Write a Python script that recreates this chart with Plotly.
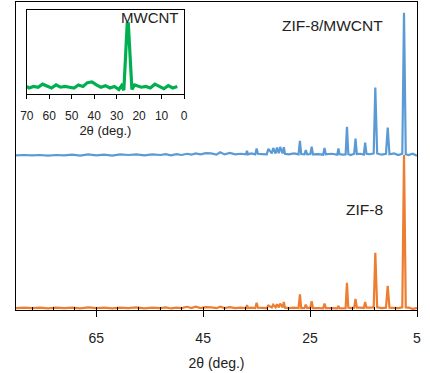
import plotly.graph_objects as go

# ---- data ----
zif8_x = [5.0, 5.8, 6.5, 7.1, 7.43, 7.75, 8.5, 9.3, 10.15, 10.48, 10.8, 11.6, 12.45, 12.8, 13.1,
          13.8, 14.45, 14.7, 14.95, 15.6, 16.25, 16.5, 16.75, 17.4, 17.85, 18.1, 18.35, 19.0,
          19.5, 19.7, 19.9, 21.0, 22.05, 22.3, 22.55, 23.5, 24.45, 24.7, 24.95, 25.55, 25.8,
          26.05, 26.65, 26.9, 27.15, 28.0, 29.0, 29.7, 29.9, 30.15, 30.6, 30.85, 31.2, 31.45,
          31.9, 32.15, 32.8, 33.1, 34.0, 34.75, 35.0, 35.25, 36.0, 36.6, 36.8, 37.0, 38.0, 39.0,
          40.0, 41.0, 41.8, 42.5, 43.5, 44.5, 45.5, 46.4, 47.2, 48.0, 49.0, 50.0, 51.0, 52.0,
          53.0, 54.5, 56.0, 57.5, 59.0, 60.5, 62.0, 63.5, 65.0, 66.5, 68.0, 69.5, 71.0, 72.5,
          74.0, 75.5, 77.0, 78.5, 80.0]
zif8_y = [5, 0, 8, 10, 1000, 10, 5, 8, 8, 150, 8, 5, 10, 365, 10,
          8, 8, 45, 5, 8, 8, 65, 8, 5, 8, 170, 5, 3,
          5, 20, 3, 5, 5, 35, 3, 5, 5, 50, 8, 5, 28,
          5, 5, 95, 5, 8, 5, 8, 45, 10, 35, 10, 30, 10,
          28, 10, 22, 5, 5, 8, 40, 5, 8, 5, 25, 5, 8, 5,
          12, 5, 15, 5, 10, 12, 5, 15, 5, 14, 5, 8, 3, 10,
          5, 8, 3, 10, 5, 8, 3, 8, 5, 10, 3, 8, 5, 8,
          3, 8, 5, 8, 5]

cnt_x = [5.0, 5.8, 6.6, 7.1, 7.43, 7.75, 8.5, 9.3, 10.15, 10.48, 10.8, 11.6, 12.45, 12.8, 13.1,
         13.8, 14.45, 14.7, 14.95, 15.6, 16.25, 16.5, 16.75, 17.4, 17.85, 18.1, 18.35, 19.0,
         19.5, 19.7, 19.9, 21.0, 22.05, 22.3, 22.55, 23.5, 24.45, 24.7, 24.95, 25.55, 25.8,
         26.05, 26.65, 26.9, 27.15, 28.0, 29.0, 29.7, 29.9, 30.15, 30.6, 30.85, 31.2, 31.45,
         31.9, 32.15, 32.8, 33.1, 34.0, 34.75, 35.0, 35.25, 36.0, 36.6, 36.8, 37.0, 38.0, 39.0,
         40.0, 41.0, 41.8, 42.5, 43.5, 44.5, 45.5, 46.4, 47.2, 48.0, 49.0, 50.0, 51.0, 52.0,
         53.0, 54.5, 56.0, 57.5, 59.0, 60.5, 62.0, 63.5, 65.0, 66.5, 68.0, 69.5, 71.0, 72.5,
         74.0, 75.5, 77.0, 78.5, 80.0]
cnt_y = [995, 1008, 1000, 1005, 1924, 1008, 1000, 1010, 1005, 1178, 1008, 1002, 1010, 1438, 1010,
         1005, 1008, 1080, 1003, 1008, 1006, 1106, 1008, 1000, 1006, 1184, 1004, 1002,
         1006, 1042, 1002, 1008, 1004, 1046, 1002, 1006, 1004, 1054, 1006, 1004, 1032,
         1004, 1006, 1092, 1004, 1010, 1004, 1008, 1050, 1010, 1052, 1012, 1048, 1010,
         1046, 1010, 1040, 1004, 1006, 1008, 1042, 1004, 1010, 1004, 1028, 1004, 1008, 1004,
         1014, 1004, 1018, 1002, 1010, 1012, 1004, 1010, 1002, 1008, 1000, 1006, 998, 1006,
         1000, 1004, 998, 1004, 1000, 1004, 996, 1002, 998, 1004, 996, 1002, 998, 1000,
         996, 1000, 998, 1000, 997]

mw_x = [3, 5, 7, 9, 11, 13, 15, 17, 19, 20.5, 22, 23.2, 24.3, 24.8, 25.3, 25.8, 26.8, 27.8,
        29, 31, 33, 35, 37, 39, 41, 43, 45, 47, 49, 51, 53, 55, 57, 59, 61, 63, 65, 67, 69, 70]
mw_y = [0.10, 0.08, 0.11, 0.07, 0.10, 0.13, 0.08, 0.10, 0.09, 0.10, 0.12, 0.06, 0.60, 0.92,
        0.92, 0.60, 0.05, 0.11, 0.06, 0.10, 0.08, 0.11, 0.09, 0.12, 0.16, 0.15, 0.10, 0.12,
        0.08, 0.09, 0.10, 0.09, 0.12, 0.08, 0.10, 0.13, 0.09, 0.10, 0.08, 0.10]

main_ticks = [5, 25, 45, 65]
inset_ticks = [0, 10, 20, 30, 40, 50, 60, 70]

FONT = "Liberation Sans"

fig = go.Figure()
fig.add_trace(go.Scatter(x=zif8_x, y=zif8_y, mode="lines",
                         line=dict(color="#ED7D31", width=2.2), showlegend=False))
fig.add_trace(go.Scatter(x=cnt_x, y=cnt_y, mode="lines",
                         line=dict(color="#5B9BD5", width=2.2), showlegend=False))
fig.add_trace(go.Scatter(x=mw_x, y=mw_y, mode="lines", xaxis="x2", yaxis="y2",
                         line=dict(color="#00B050", width=3.2), showlegend=False))

fig.update_layout(
    width=430, height=373,
    margin=dict(l=16, r=13, t=2, b=63),
    paper_bgcolor="white", plot_bgcolor="white",
    font=dict(family=FONT, color="#222222"),
    xaxis=dict(range=[80, 5], tickvals=main_ticks, ticks="outside", ticklen=6,
               tickcolor="black", showline=True, linecolor="black", linewidth=1.3,
               mirror=True, showgrid=False, zeroline=False,
               tickfont=dict(size=14), ticklabelstandoff=9,
               minor=dict(tick0=5, dtick=4, ticks="inside", ticklen=3, tickcolor="black",
                          showgrid=False),
               title=dict(text="2θ (deg.)", font=dict(size=14), standoff=13)),
    yaxis=dict(range=[-7, 1994], showticklabels=False, ticks="", showline=True,
               linecolor="black", linewidth=1.3, mirror=True, showgrid=False,
               zeroline=False),
    xaxis2=dict(domain=[0.027, 0.419], anchor="y2", range=[70, 0], tickvals=inset_ticks,
                ticks="outside", ticklen=4, tickcolor="black", showline=True,
                linecolor="black", linewidth=1.2, mirror=True, showgrid=False,
                zeroline=False, tickfont=dict(size=12), ticklabelstandoff=6,
                title=dict(text="2θ (deg.)", font=dict(size=13), standoff=3)),
    yaxis2=dict(domain=[0.701, 0.974], anchor="x2", range=[0, 1.1], showticklabels=False,
                ticks="", showline=True, linecolor="black", linewidth=1.2, mirror=True,
                showgrid=False, zeroline=False),
    annotations=[
        dict(x=11, y=1844, xref="x", yref="y", text="ZIF-8/MWCNT", showarrow=False,
             xanchor="right", yanchor="middle", font=dict(size=15.5, color="#222222")),
        dict(x=11, y=643, xref="x", yref="y", text="ZIF-8", showarrow=False,
             xanchor="right", yanchor="middle", font=dict(size=15.5, color="#222222")),
        dict(x=2, y=1.0, xref="x2", yref="y2", text="MWCNT", showarrow=False,
             xanchor="right", yanchor="middle", font=dict(size=15, color="#222222")),
    ],
)

fig.write_html("out.html")
